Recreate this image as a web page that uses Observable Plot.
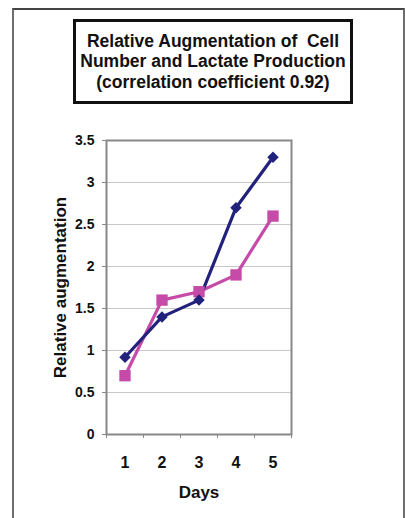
<!DOCTYPE html>
<html>
<head>
<meta charset="utf-8">
<script src="https://cdn.jsdelivr.net/npm/d3@7"></script>
<script src="https://cdn.jsdelivr.net/npm/@observablehq/plot@0.6"></script>
<style>
  html, body { margin: 0; padding: 0; background: #fff; }
  #page { position: relative; width: 405px; height: 518px; overflow: hidden; font-family: Arial, "Liberation Sans", sans-serif; }
  #frame { position: absolute; left: 12px; top: 8px; width: 389px; height: 530px; border-left: 2px solid #6e6e6e; border-right: 2px solid #6e6e6e; border-top: 2px solid #444; }
  #title { position: absolute; left: 73px; top: 19px; width: 274px; height: 79px; border: 3px solid #111; text-align: center; font-weight: bold; font-size: 17.5px; line-height: 20.5px; color: #111; display: flex; align-items: center; justify-content: center; white-space: nowrap; }
  #chart { position: absolute; left: 0; top: 120px; }
</style>
</head>
<body>
<div id="page">
  <div id="frame"></div>
  <div id="title"><div>Relative Augmentation of&nbsp; Cell<br>Number and Lactate Production<br>(correlation coefficient 0.92)</div></div>
  <div id="chart"></div>
</div>
<script>
const days = [1, 2, 3, 4, 5];
const cellNumber = [0.92, 1.4, 1.6, 2.7, 3.3];
const lactate = [0.7, 1.6, 1.7, 1.9, 2.6];
const yTicks = [0, 0.5, 1, 1.5, 2, 2.5, 3, 3.5];
const xBoundaries = [0.5, 1.5, 2.5, 3.5, 4.5, 5.5];

const blue = "#22227c";
const pink = "#c64aa8";

const cellData = days.map((d, i) => ({day: d, value: cellNumber[i]}));
const lactData = days.map((d, i) => ({day: d, value: lactate[i]}));

const diamond = {
  draw(context, size) {
    const s = Math.sqrt(size / 2);
    context.moveTo(0, -s);
    context.lineTo(s, 0);
    context.lineTo(0, s);
    context.lineTo(-s, 0);
    context.closePath();
  }
};

const chart = Plot.plot({
  width: 405,
  height: 398,
  marginLeft: 106,
  marginRight: 114,
  marginTop: 20,
  marginBottom: 84,
  style: { fontFamily: "Arial, 'Liberation Sans', sans-serif", background: "transparent" },
  x: { domain: [0.5, 5.5], axis: null },
  y: { domain: [0, 3.5], axis: null },
  marks: [
    Plot.ruleY(yTicks.slice(1), { stroke: "#c8c8c8", strokeWidth: 1.2 }),
    Plot.frame({ stroke: "#888", strokeWidth: 2 }),
    Plot.axisY({ ticks: yTicks, tickSize: 4, tickFormat: () => "", stroke: "#888", label: null }),
    Plot.axisX({ ticks: xBoundaries, tickSize: 4, tickFormat: () => "", stroke: "#888", label: null }),
    Plot.text(yTicks, { y: d => d, text: d => String(d), frameAnchor: "left", textAnchor: "end", lineAnchor: "middle", dx: -12, fontSize: 14, fontWeight: "bold", fill: "#111" }),
    Plot.text(days, { x: d => d, text: d => String(d), frameAnchor: "bottom", lineAnchor: "middle", dy: 28, fontSize: 16, fontWeight: "bold", fill: "#111" }),
    Plot.text(["Days"], { frameAnchor: "bottom", lineAnchor: "middle", dy: 58, fontSize: 17, fontWeight: "bold", fill: "#111" }),
    Plot.text(["Relative augmentation"], { frameAnchor: "left", textAnchor: "middle", lineAnchor: "middle", dx: -46, rotate: -90, fontSize: 17, fontWeight: "bold", fill: "#111" }),
    Plot.line(lactData, { x: "day", y: "value", stroke: pink, strokeWidth: 3.2 }),
    Plot.line(cellData, { x: "day", y: "value", stroke: blue, strokeWidth: 3.2 }),
    Plot.dot(lactData, { x: "day", y: "value", symbol: "square", r: 6.4, fill: pink, stroke: "none" }),
    Plot.dot(cellData, { x: "day", y: "value", symbol: diamond, r: 4.6, fill: blue, stroke: "none" })
  ]
});
document.getElementById("chart").appendChild(chart);
</script>
</body>
</html>
